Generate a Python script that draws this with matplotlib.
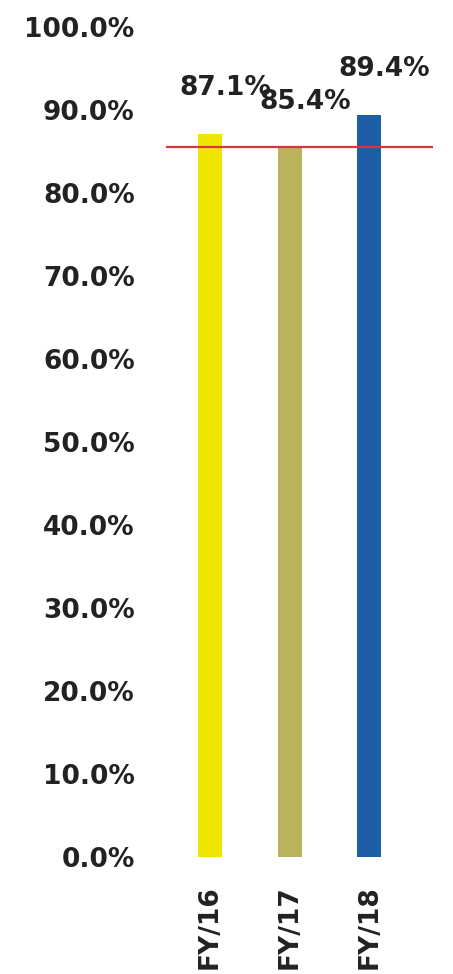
import numpy as np
import matplotlib.pyplot as plt

years = ["FY/16", "FY/17", "FY/18"]
rates = [87.1, 85.4, 89.4]
target = 85.6
bar_colors = ["#f0e500", "#b9b45c", "#1d5ea5"]
yticks = np.arange(0, 101, 10)

fig = plt.figure(figsize=(4.53, 9.74), dpi=100)
ax = fig.add_axes([150 / 453, 117 / 974, 290 / 453, 830 / 974])

x = np.arange(len(years))
bars = ax.bar(x, rates, width=0.30, color=bar_colors)
ax.hlines(target, -0.55, 2.8, color="#d8363f", linewidth=1.6)

for xi, v in zip(x, rates):
    ax.annotate(f"{v:.1f}%", (xi, v), xytext=(11, 24), textcoords="offset points",
                ha="center", va="bottom", fontsize=19, fontweight="bold", color="#222222")

ax.set_xlim(-0.755, 2.89)
ax.set_ylim(0, 100)
ax.set_yticks(yticks)
ax.set_yticklabels([f"{t:.1f}%" for t in yticks], fontsize=19, fontweight="bold", color="#222222")
ax.set_xticks(x)
ax.set_xticklabels(years, rotation=90, fontsize=19, fontweight="bold", color="#222222")
ax.tick_params(axis="y", length=0, pad=11)
ax.tick_params(axis="x", length=0, pad=20)
for s in ax.spines.values():
    s.set_visible(False)

fig.savefig("out.png", dpi=100)
